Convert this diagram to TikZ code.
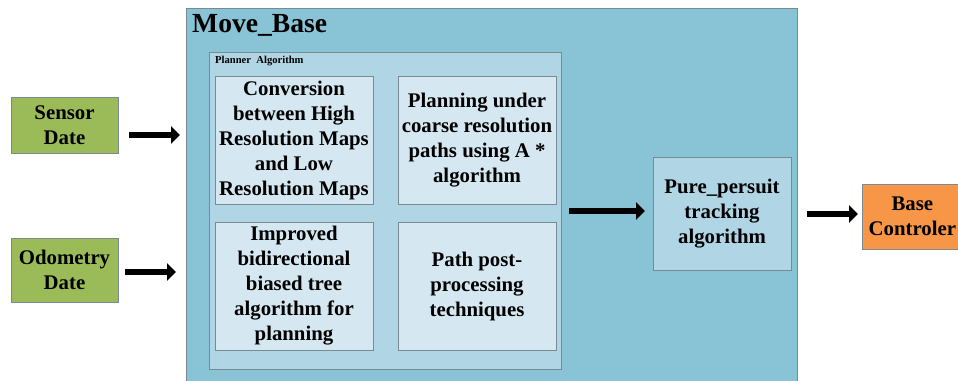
\documentclass[tikz,border=0pt]{standalone}
\usepackage{fontspec}
\setmainfont{Liberation Serif}[BoldFont={Liberation Serif Bold}]
\usetikzlibrary{arrows.meta}
\definecolor{outerblue}{HTML}{89C3D6}
\definecolor{midblue}{HTML}{B0D6E6}
\definecolor{innerblue}{HTML}{D5E7F1}
\definecolor{boxgreen}{HTML}{9BBB59}
\definecolor{boxorange}{HTML}{F79646}
\definecolor{edgegray}{HTML}{7A8A92}
\tikzset{
  blk/.style={draw=edgegray, line width=0.8pt, inner sep=0pt, align=center,
    font=\bfseries\fontsize{20.8}{25}\selectfont},
  fat/.style={line width=6.5pt, -{Triangle[length=9pt,width=17pt]}}
}
\begin{document}
\begin{tikzpicture}[x=1pt,y=-1pt]
\useasboundingbox (0,0) rectangle (958,380);
% outer Move_Base
\node[blk, fill=outerblue, minimum width=611pt, minimum height=375pt, anchor=north west] (mb) at (186,8) {};
\node[anchor=north west, inner sep=0pt, font=\bfseries\fontsize{27.6}{30}\selectfont] (mbt) at (192,14) {Move\_Base};
% planner
\node[blk, fill=midblue, minimum width=352pt, minimum height=317pt, anchor=north west] (pl) at (209,52) {};
\node[anchor=north west, inner sep=0pt, font=\bfseries\fontsize{10.6}{12}\selectfont] (plt) at (215,56) {Planner\ \ Algorithm};
% inner boxes
\node[blk, fill=innerblue, minimum width=158pt, minimum height=128pt] (b1) at (294,140) {Conversion\\between High\\Resolution Maps\\and Low\\Resolution Maps};
\node[blk, fill=innerblue, minimum width=158pt, minimum height=128pt] (b2) at (477,140) {Planning under\\coarse resolution\\paths using A *\\algorithm};
\node[blk, fill=innerblue, minimum width=158pt, minimum height=128pt] (b3) at (294,286) {Improved\\bidirectional\\biased tree\\algorithm for\\planning};
\node[blk, fill=innerblue, minimum width=158pt, minimum height=128pt] (b4) at (477,286) {Path post-\\processing\\techniques};
% pure pursuit
\node[blk, fill=midblue, minimum width=138pt, minimum height=113pt] (pp) at (722,213.5) {Pure\_persuit\\tracking\\algorithm};
% inputs
\node[blk, fill=boxgreen, minimum width=107pt, minimum height=56pt] (sd) at (64.5,125) {Sensor\\Date};
\node[blk, fill=boxgreen, minimum width=107pt, minimum height=64pt] (od) at (64.5,270) {Odometry\\Date};
% output
\node[blk, fill=boxorange, minimum width=100pt, minimum height=65pt, anchor=west] (bc) at (862,216.5) {Base\\Controler};
% arrows
\coordinate (a1s) at (129,135);
\coordinate (a1e) at (180,135);
\coordinate (a2s) at (125,272);
\coordinate (a2e) at (176,272);
\coordinate (a3s) at (569,211);
\coordinate (a3e) at (645,211);
\coordinate (a4s) at (807,214);
\coordinate (a4e) at (858,214);
\draw[fat] (a1s) -- (a1e);
\draw[fat] (a2s) -- (a2e);
\draw[fat] (a3s) -- (a3e);
\draw[fat] (a4s) -- (a4e);
\end{tikzpicture}
\end{document}
